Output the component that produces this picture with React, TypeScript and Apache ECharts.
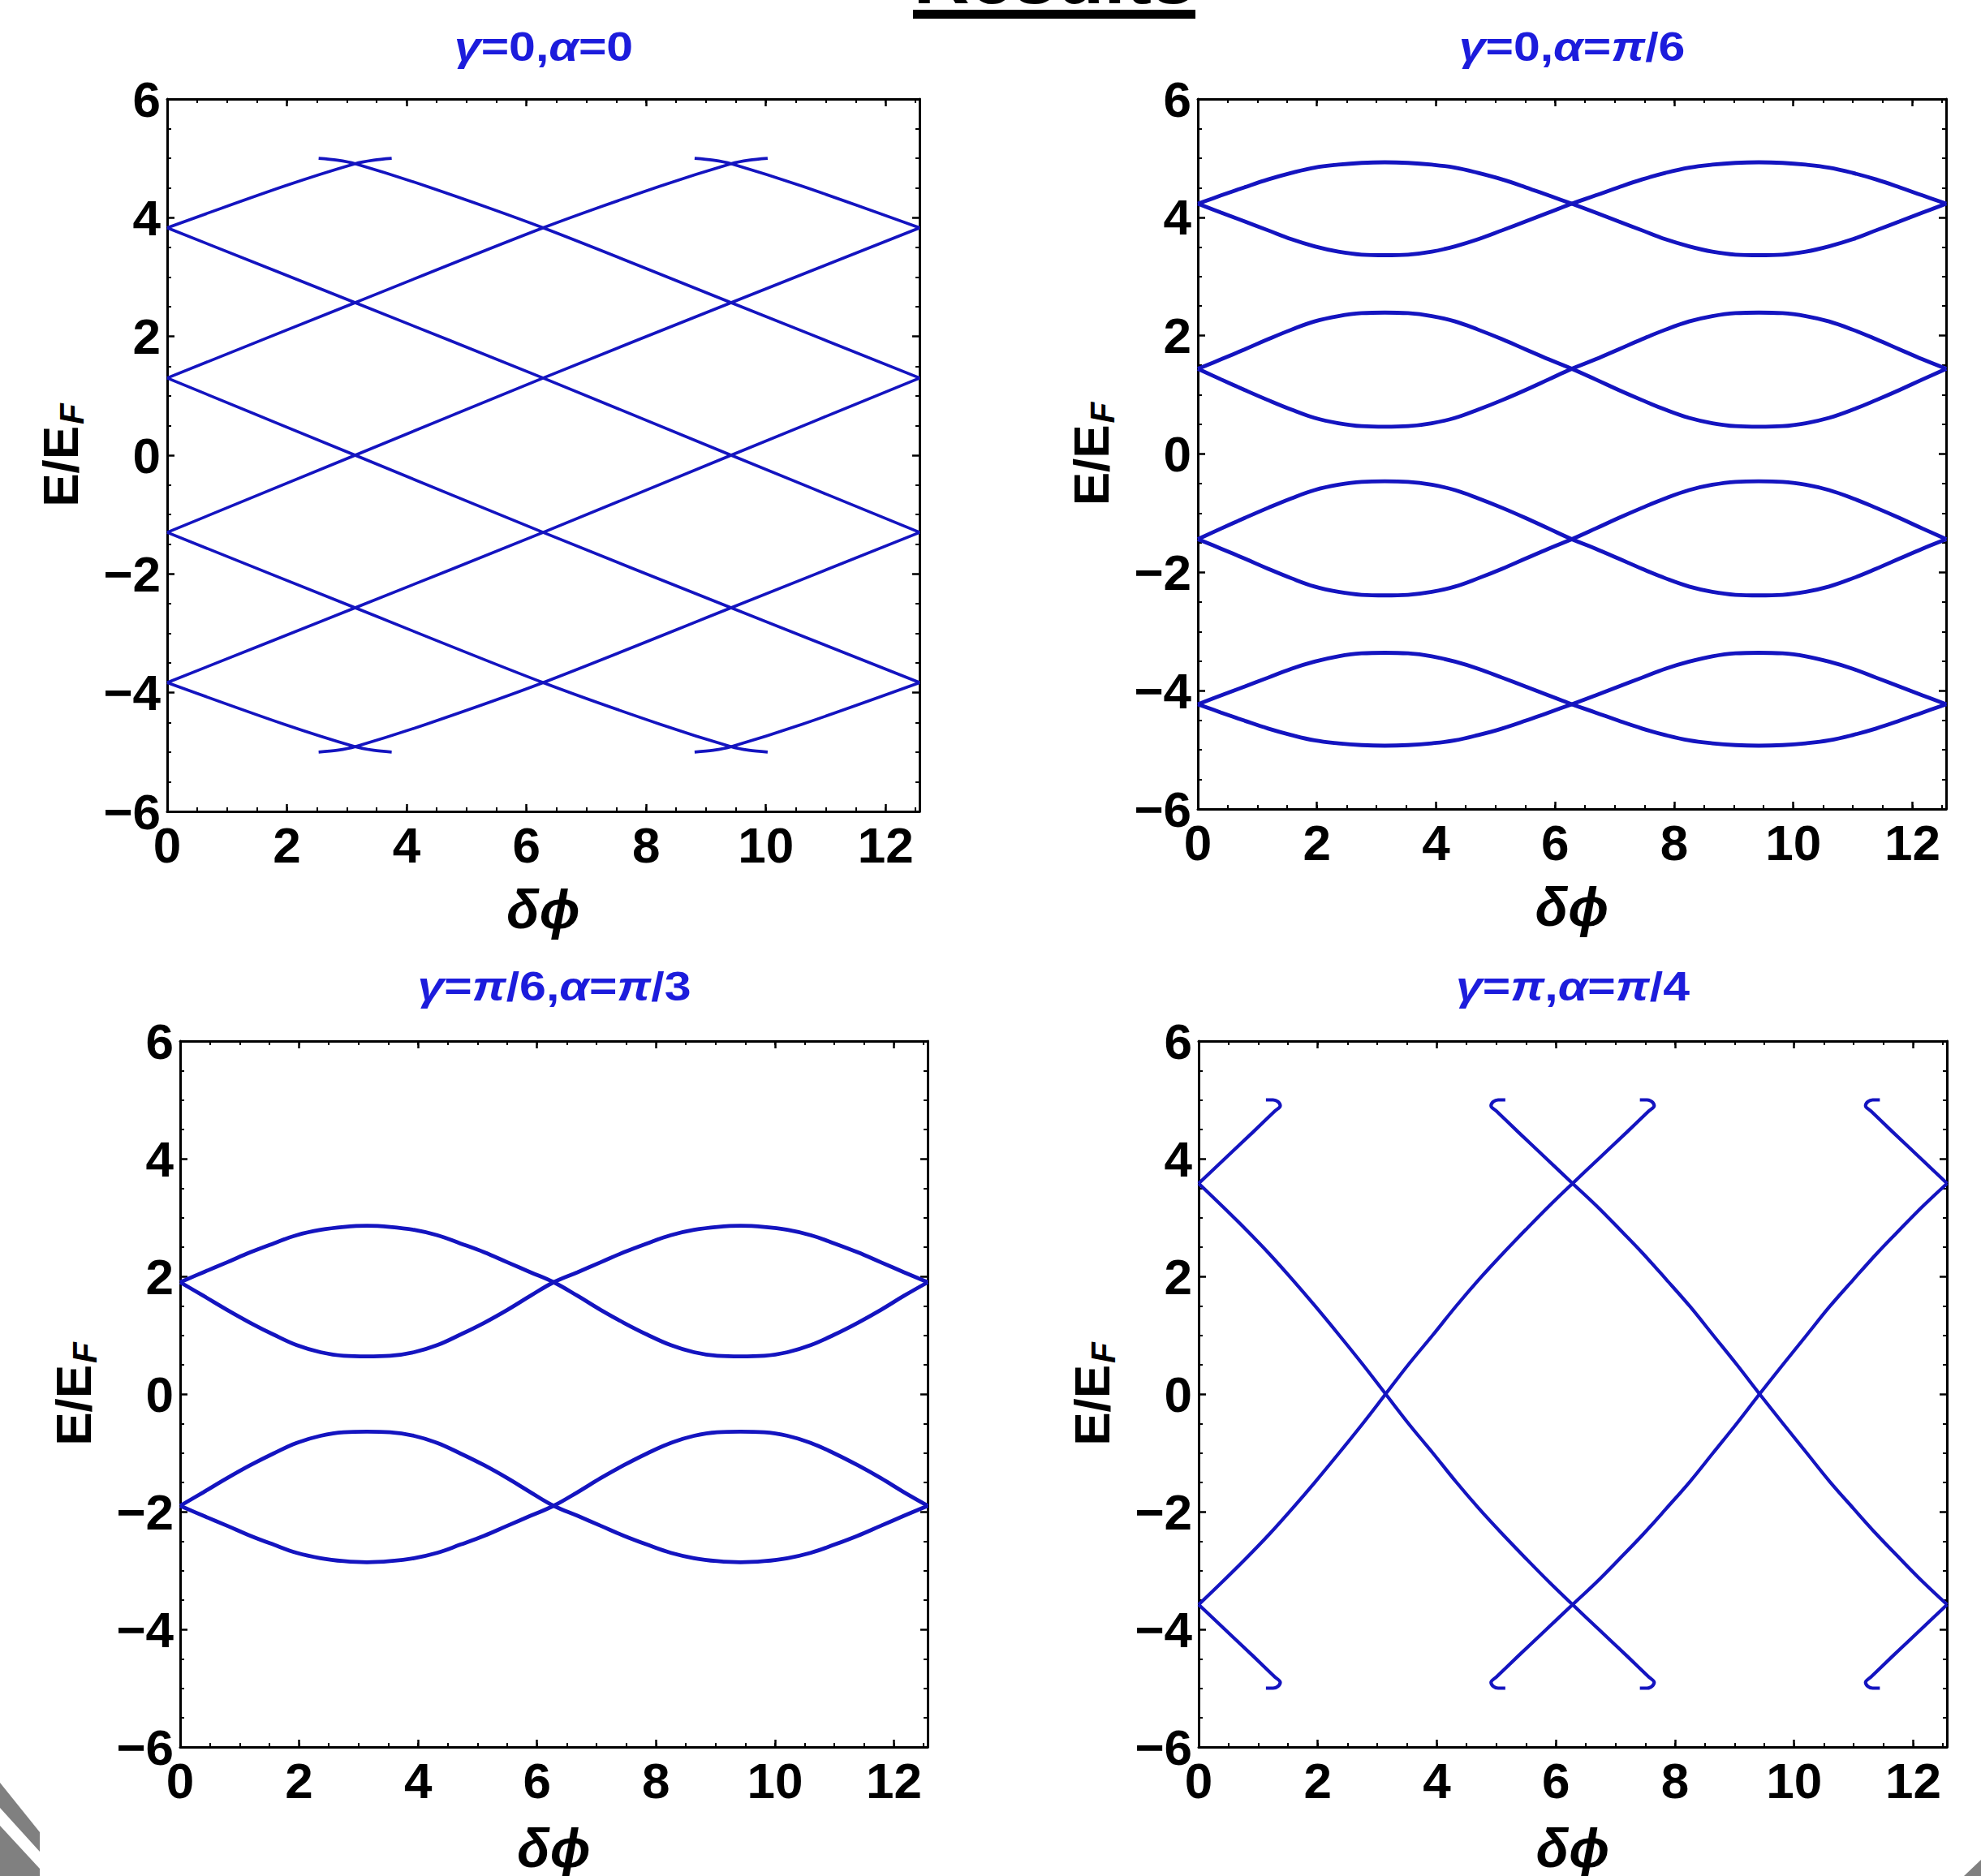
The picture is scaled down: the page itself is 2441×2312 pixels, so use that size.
import React, { useEffect, useRef } from 'react';
import * as echarts from 'echarts';

const FONT = '"Liberation Sans", Arial, "DejaVu Sans", sans-serif';
const LINE_BLUE = '#1414c0';
const TITLE_BLUE = '#1c1cdc';
const X_MAX = 4 * Math.PI;

// ---------- Panel 1: γ=0, α=0 ----------
const p1A = [[0, -3.83], [3.14, -2.57], [6.28, -1.3], [9.42, 0], [12.57, 1.3]];
const p1B = [[0, -1.3], [3.14, 0], [6.28, 1.3], [9.42, 2.57], [12.57, 3.83]];
const p1C = [[0, 1.3], [3.14, 2.57], [6.28, 3.83], [8.23, 4.53], [9.42, 4.91], [9.72, 4.97], [10.03, 5.0]];
const p1D = [[0, 3.83], [1.95, 4.53], [3.14, 4.91], [3.45, 4.97], [3.75, 5.0]];
const p1E = [[2.53, -5.0], [2.84, -4.97], [3.14, -4.91], [4.33, -4.53], [6.28, -3.83], [9.42, -2.57], [12.57, -1.3]];
const p1F = [[8.81, -5.0], [9.12, -4.97], [9.42, -4.91], [10.61, -4.53], [12.57, -3.83]];
const p1G = [[0, 3.83], [3.14, 2.57], [6.28, 1.3], [9.42, 0], [12.57, -1.3]];
const p1H = [[0, 1.3], [3.14, 0], [6.28, -1.3], [9.42, -2.57], [12.57, -3.83]];
const p1I = [[0, -1.3], [3.14, -2.57], [6.28, -3.83], [8.23, -4.53], [9.42, -4.91], [9.72, -4.97], [10.03, -5.0]];
const p1J = [[0, -3.83], [1.95, -4.53], [3.14, -4.91], [3.45, -4.97], [3.75, -5.0]];
const p1K = [[2.53, 5.0], [2.84, 4.97], [3.14, 4.91], [4.33, 4.53], [6.28, 3.83], [9.42, 2.57], [12.57, 1.3]];
const p1L = [[8.81, 5.0], [9.12, 4.97], [9.42, 4.91], [10.61, 4.53], [12.57, 3.83]];

// ---------- shared δϕ grid (steps of π/8) for panels 2 and 3 ----------
const xsE = [0, 0.39, 0.79, 1.18, 1.57, 1.96, 2.36, 2.75, 3.14, 3.53, 3.93, 4.32, 4.71, 5.11, 5.5, 5.89, 6.28,
  6.68, 7.07, 7.46, 7.85, 8.25, 8.64, 9.03, 9.42, 9.82, 10.21, 10.6, 11.0, 11.39, 11.78, 12.17, 12.57];

// ---------- Panel 2: γ=0, α=π/6 ----------
const p2Band1A = [4.23, 4.37, 4.51, 4.64, 4.75, 4.84, 4.89, 4.92, 4.93, 4.92, 4.89, 4.84, 4.75, 4.64, 4.51, 4.37, 4.23,
  4.08, 3.93, 3.78, 3.63, 3.51, 3.42, 3.37, 3.36, 3.37, 3.42, 3.51, 3.63, 3.78, 3.93, 4.08, 4.23];
const p2Band1B = [4.23, 4.08, 3.93, 3.78, 3.63, 3.51, 3.42, 3.37, 3.36, 3.37, 3.42, 3.51, 3.63, 3.78, 3.93, 4.08, 4.23,
  4.37, 4.51, 4.64, 4.75, 4.84, 4.89, 4.92, 4.93, 4.92, 4.89, 4.84, 4.75, 4.64, 4.51, 4.37, 4.23];
const p2Band2A = [1.44, 1.6, 1.77, 1.94, 2.1, 2.24, 2.33, 2.38, 2.39, 2.38, 2.33, 2.24, 2.1, 1.94, 1.77, 1.6, 1.44,
  1.26, 1.08, 0.91, 0.75, 0.61, 0.52, 0.47, 0.46, 0.47, 0.52, 0.61, 0.75, 0.91, 1.08, 1.26, 1.44];
const p2Band2B = [1.44, 1.26, 1.08, 0.91, 0.75, 0.61, 0.52, 0.47, 0.46, 0.47, 0.52, 0.61, 0.75, 0.91, 1.08, 1.26, 1.44,
  1.6, 1.77, 1.94, 2.1, 2.24, 2.33, 2.38, 2.39, 2.38, 2.33, 2.24, 2.1, 1.94, 1.77, 1.6, 1.44];
const p2Band3A = [-1.44, -1.6, -1.77, -1.94, -2.1, -2.24, -2.33, -2.38, -2.39, -2.38, -2.33, -2.24, -2.1, -1.94, -1.77, -1.6, -1.44,
  -1.26, -1.08, -0.91, -0.75, -0.61, -0.52, -0.47, -0.46, -0.47, -0.52, -0.61, -0.75, -0.91, -1.08, -1.26, -1.44];
const p2Band3B = [-1.44, -1.26, -1.08, -0.91, -0.75, -0.61, -0.52, -0.47, -0.46, -0.47, -0.52, -0.61, -0.75, -0.91, -1.08, -1.26, -1.44,
  -1.6, -1.77, -1.94, -2.1, -2.24, -2.33, -2.38, -2.39, -2.38, -2.33, -2.24, -2.1, -1.94, -1.77, -1.6, -1.44];
const p2Band4A = [-4.23, -4.37, -4.51, -4.64, -4.75, -4.84, -4.89, -4.92, -4.93, -4.92, -4.89, -4.84, -4.75, -4.64, -4.51, -4.37, -4.23,
  -4.08, -3.93, -3.78, -3.63, -3.51, -3.42, -3.37, -3.36, -3.37, -3.42, -3.51, -3.63, -3.78, -3.93, -4.08, -4.23];
const p2Band4B = [-4.23, -4.08, -3.93, -3.78, -3.63, -3.51, -3.42, -3.37, -3.36, -3.37, -3.42, -3.51, -3.63, -3.78, -3.93, -4.08, -4.23,
  -4.37, -4.51, -4.64, -4.75, -4.84, -4.89, -4.92, -4.93, -4.92, -4.89, -4.84, -4.75, -4.64, -4.51, -4.37, -4.23];

// ---------- Panel 3: γ=π/6, α=π/3 ----------
const p3Band1A = [1.9, 2.07, 2.24, 2.41, 2.56, 2.7, 2.79, 2.84, 2.86, 2.84, 2.79, 2.7, 2.56, 2.41, 2.24, 2.07, 1.9,
  1.67, 1.43, 1.21, 1.01, 0.83, 0.71, 0.65, 0.64, 0.65, 0.71, 0.83, 1.01, 1.21, 1.43, 1.67, 1.9];
const p3Band1B = [1.9, 1.67, 1.43, 1.21, 1.01, 0.83, 0.71, 0.65, 0.64, 0.65, 0.71, 0.83, 1.01, 1.21, 1.43, 1.67, 1.9,
  2.07, 2.24, 2.41, 2.56, 2.7, 2.79, 2.84, 2.86, 2.84, 2.79, 2.7, 2.56, 2.41, 2.24, 2.07, 1.9];
const p3Band2A = [-1.9, -2.07, -2.24, -2.41, -2.56, -2.7, -2.79, -2.84, -2.86, -2.84, -2.79, -2.7, -2.56, -2.41, -2.24, -2.07, -1.9,
  -1.67, -1.43, -1.21, -1.01, -0.83, -0.71, -0.65, -0.64, -0.65, -0.71, -0.83, -1.01, -1.21, -1.43, -1.67, -1.9];
const p3Band2B = [-1.9, -1.67, -1.43, -1.21, -1.01, -0.83, -0.71, -0.65, -0.64, -0.65, -0.71, -0.83, -1.01, -1.21, -1.43, -1.67, -1.9,
  -2.07, -2.24, -2.41, -2.56, -2.7, -2.79, -2.84, -2.86, -2.84, -2.79, -2.7, -2.56, -2.41, -2.24, -2.07, -1.9];

// ---------- Panel 4: γ=π, α=π/4 ----------
const p4A = [[0, 3.58], [0.39, 3.2], [0.79, 2.8], [1.18, 2.39], [1.57, 1.95], [1.96, 1.49], [2.36, 1.0], [2.75, 0.51], [3.14, 0],
  [3.53, -0.51], [3.93, -1.0], [4.32, -1.49], [4.71, -1.95], [5.11, -2.39], [5.5, -2.8], [5.89, -3.2], [6.28, -3.58],
  [6.73, -4.01], [7.19, -4.45], [7.56, -4.81], [7.65, -4.9], [7.61, -4.97], [7.53, -5.0], [7.41, -5.0]];
const p4B = [[0, -3.58], [0.39, -3.2], [0.79, -2.8], [1.18, -2.39], [1.57, -1.95], [1.96, -1.49], [2.36, -1.0], [2.75, -0.51], [3.14, 0],
  [3.53, 0.51], [3.93, 1.0], [4.32, 1.49], [4.71, 1.95], [5.11, 2.39], [5.5, 2.8], [5.89, 3.2], [6.28, 3.58],
  [6.73, 4.01], [7.19, 4.45], [7.56, 4.81], [7.65, 4.9], [7.61, 4.97], [7.53, 5.0], [7.41, 5.0]];
const p4C = [[5.15, 5.0], [5.03, 5.0], [4.95, 4.97], [4.91, 4.9], [5.0, 4.81], [5.37, 4.45], [5.83, 4.01], [6.28, 3.58],
  [6.68, 3.2], [7.07, 2.8], [7.46, 2.39], [7.85, 1.95], [8.25, 1.49], [8.64, 1.0], [9.03, 0.51], [9.42, 0],
  [9.82, -0.51], [10.21, -1.0], [10.6, -1.49], [11.0, -1.95], [11.39, -2.39], [11.78, -2.8], [12.17, -3.2], [12.57, -3.58]];
const p4D = [[5.15, -5.0], [5.03, -5.0], [4.95, -4.97], [4.91, -4.9], [5.0, -4.81], [5.37, -4.45], [5.83, -4.01], [6.28, -3.58],
  [6.68, -3.2], [7.07, -2.8], [7.46, -2.39], [7.85, -1.95], [8.25, -1.49], [8.64, -1.0], [9.03, -0.51], [9.42, 0],
  [9.82, 0.51], [10.21, 1.0], [10.6, 1.49], [11.0, 1.95], [11.39, 2.39], [11.78, 2.8], [12.17, 3.2], [12.57, 3.58]];
const p4E = [[0, 3.58], [0.45, 4.01], [0.91, 4.45], [1.28, 4.81], [1.37, 4.9], [1.33, 4.97], [1.25, 5.0], [1.13, 5.0]];
const p4F = [[0, -3.58], [0.45, -4.01], [0.91, -4.45], [1.28, -4.81], [1.37, -4.9], [1.33, -4.97], [1.25, -5.0], [1.13, -5.0]];
const p4G = [[11.44, 5.0], [11.32, 5.0], [11.24, 4.97], [11.2, 4.9], [11.29, 4.81], [11.66, 4.45], [12.12, 4.01], [12.57, 3.58]];
const p4H = [[11.44, -5.0], [11.32, -5.0], [11.24, -4.97], [11.2, -4.9], [11.29, -4.81], [11.66, -4.45], [12.12, -4.01], [12.57, -3.58]];

// panel titles (rich text fragments)
const panelTitles = [
  '{i|γ}{n|=0,}{i|α}{n|=0}',
  '{i|γ}{n|=0,}{i|α}{n|=}{i|π}{n|/6}',
  '{i|γ}{n|=}{i|π}{n|/6,}{i|α}{n|=}{i|π}{n|/3}',
  '{i|γ}{n|=}{i|π}{n|,}{i|α}{n|=}{i|π}{n|/4}',
];

const grids = [
  { left: 206, top: 122, width: 927, height: 878 },
  { left: 1476, top: 122, width: 922, height: 875 },
  { left: 222, top: 1283, width: 921, height: 874 },
  { left: 1477, top: 1283, width: 922, height: 874 },
];
const titleCenters = [[670, 58], [1937, 58], [683, 1216], [1938, 1216]];
const lineWidths = [3.6, 4.8, 4.8, 4.2];
const smoothness = [0.3, 0.4, 0.4, 0.35];

function zip(xs: number[], ys: number[]) {
  return ys.map((y, k) => [xs[k], y]);
}

const App: React.FC = () => {
  const ref = useRef<HTMLDivElement>(null);
  useEffect(() => {
    if (!ref.current) return;
    const chart = echarts.init(ref.current, undefined, { renderer: 'svg' });

    const black = '#000';
    const axisLine = { show: true, onZero: false, lineStyle: { color: black, width: 3 } };
    const majorTick = { show: true, inside: true, length: 9, lineStyle: { color: black, width: 2.5 } };
    const minorTickX = { show: true, inside: true, length: 5, lineStyle: { color: black, width: 2 } };
    const minorTickY = { show: true, splitNumber: 4, length: 5, lineStyle: { color: black, width: 2 } };
    const labelStyle = { fontFamily: FONT, fontWeight: 'bold', fontSize: 62, color: black };

    const xAxes: any[] = [];
    const yAxes: any[] = [];
    grids.forEach((_, i) => {
      const base = { gridIndex: i, type: 'value', min: 0, max: X_MAX, splitLine: { show: false } };
      xAxes.push({
        ...base, position: 'bottom', interval: 2, axisLine, axisTick: majorTick,
        axisLabel: {
          ...labelStyle, margin: 10, showMaxLabel: false,
          formatter: (v: number) => (Math.abs(v - Math.round(v)) < 1e-6 ? String(Math.round(v)) : ''),
        },
        name: 'δϕ', nameLocation: 'middle', nameGap: i >= 2 ? 92 : 88,
        nameTextStyle: { fontFamily: FONT, fontWeight: 'bold', fontStyle: 'italic', fontSize: 66, color: black },
      });
      xAxes.push({ ...base, position: 'bottom', interval: 0.5, axisLine: { show: false, onZero: false }, axisTick: minorTickX, axisLabel: { show: false } });
      xAxes.push({ ...base, position: 'top', interval: 2, axisLine, axisTick: majorTick, axisLabel: { show: false } });
      xAxes.push({ ...base, position: 'top', interval: 0.5, axisLine: { show: false, onZero: false }, axisTick: minorTickX, axisLabel: { show: false } });

      const ybase = { gridIndex: i, type: 'value', min: -6, max: 6, interval: 2, splitLine: { show: false }, axisLine, axisTick: majorTick, minorTick: minorTickY };
      yAxes.push({
        ...ybase, position: 'left',
        axisLabel: { ...labelStyle, margin: 8, formatter: (v: number) => (v < 0 ? '\u2212' + Math.abs(v) : String(v)) },
        name: '{a|E/E}{s|F}', nameLocation: 'middle', nameGap: 101, nameRotate: 90,
        nameTextStyle: {
          rich: {
            a: { fontFamily: FONT, fontWeight: 'bold', fontSize: 62, color: black, lineHeight: 62 },
            s: { fontFamily: FONT, fontWeight: 'bold', fontStyle: 'italic', fontSize: 42, color: black, lineHeight: 42, padding: [28, 0, 0, 2] },
          },
        },
      });
      yAxes.push({ ...ybase, position: 'right', axisLabel: { show: false } });
    });

    const mk = (data: number[][], gi: number) => ({
      type: 'line', xAxisIndex: gi * 4, yAxisIndex: gi * 2, data,
      showSymbol: false, symbol: 'none', smooth: smoothness[gi],
      lineStyle: { color: LINE_BLUE, width: lineWidths[gi] }, silent: true,
    });

    const series: any[] = [
      ...[p1A, p1B, p1C, p1D, p1E, p1F, p1G, p1H, p1I, p1J, p1K, p1L].map((d) => mk(d, 0)),
      ...[p2Band1A, p2Band1B, p2Band2A, p2Band2B, p2Band3A, p2Band3B, p2Band4A, p2Band4B].map((ys) => mk(zip(xsE, ys), 1)),
      ...[p3Band1A, p3Band1B, p3Band2A, p3Band2B].map((ys) => mk(zip(xsE, ys), 2)),
      ...[p4A, p4B, p4C, p4D, p4E, p4F, p4G, p4H].map((d) => mk(d, 3)),
    ];

    const titleRich = {
      n: { fontFamily: FONT, fontWeight: 'bold', fontSize: 50, fill: TITLE_BLUE },
      i: { fontFamily: FONT, fontWeight: 'bold', fontStyle: 'italic', fontSize: 50, fill: TITLE_BLUE },
    };

    const graphic: any[] = [
      {
        type: 'text', x: 1299, y: -30,
        style: { text: 'Results', fontFamily: FONT, fontWeight: 'bold', fontSize: 96, fill: black, align: 'center', verticalAlign: 'middle' },
      },
      { type: 'rect', shape: { x: 1125, y: 12, width: 348, height: 11 }, style: { fill: black } },
      ...panelTitles.map((t, k) => ({
        type: 'text', x: titleCenters[k][0], y: titleCenters[k][1], scaleX: 1.18, originX: 0, originY: 0,
        style: { text: t, rich: titleRich, align: 'center', verticalAlign: 'middle' },
      })),
      { type: 'polygon', shape: { points: [[0, 2197], [49, 2258], [49, 2282], [0, 2228]] }, style: { fill: '#808080' } },
      { type: 'polygon', shape: { points: [[0, 2250], [49, 2303], [49, 2312], [0, 2312]] }, style: { fill: '#808080' } },
      { type: 'polygon', shape: { points: [[2441, 2292], [2441, 2312], [2420, 2312]] }, style: { fill: '#808080' } },
    ];

    chart.setOption({
      animation: false,
      backgroundColor: '#ffffff',
      grid: grids.map((g) => ({ ...g, containLabel: false })),
      xAxis: xAxes,
      yAxis: yAxes,
      series,
      graphic,
    });
    return () => chart.dispose();
  }, []);

  return <div ref={ref} style={{ position: 'fixed', left: 0, top: 0, width: 2441, height: 2312 }} />;
};

export default App;
